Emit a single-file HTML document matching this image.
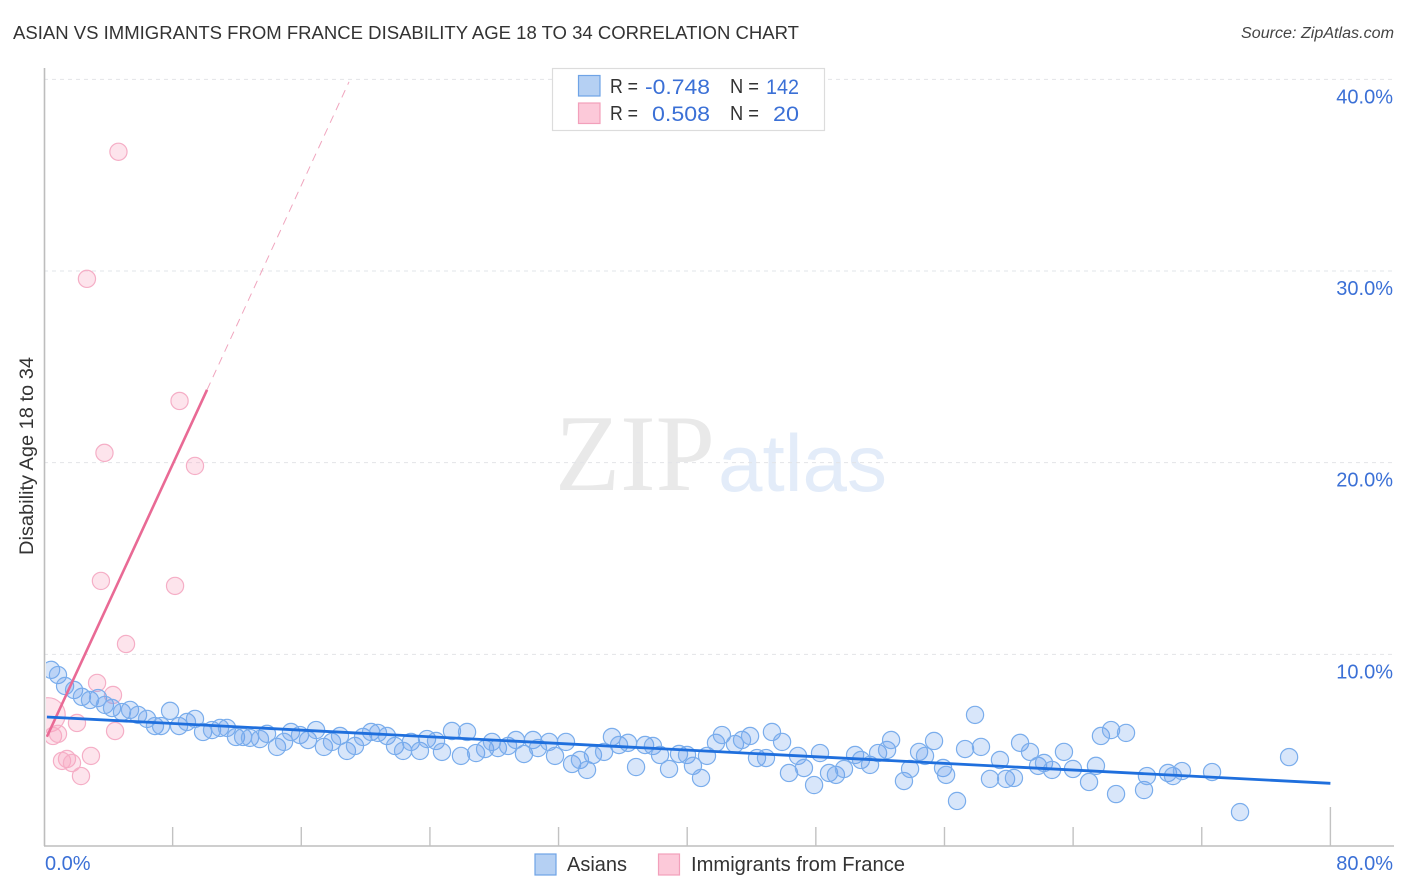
<!DOCTYPE html>
<html lang="en">
<head>
<meta charset="utf-8">
<title>Asian vs Immigrants from France Disability Age 18 to 34 Correlation Chart</title>
<style>
html,body{margin:0;padding:0;background:#fff;width:1406px;height:892px;overflow:hidden}
svg{display:block;font-family:"Liberation Sans",sans-serif}
</style>
</head>
<body>
<svg id="chart" xmlns="http://www.w3.org/2000/svg" width="1406" height="892" viewBox="0 0 1406 892">
  <defs>
    <clipPath id="plot-clip"><rect x="46" y="60" width="1350" height="786"/></clipPath>
  </defs>
  <rect x="0" y="0" width="1406" height="892" fill="#fff"/>
  <text x="13" y="39" font-size="18.5" fill="#333" textLength="786" lengthAdjust="spacingAndGlyphs">ASIAN VS IMMIGRANTS FROM FRANCE DISABILITY AGE 18 TO 34 CORRELATION CHART</text>
  <text x="1241" y="38" font-size="15.5" font-style="italic" fill="#444" textLength="153" lengthAdjust="spacingAndGlyphs">Source: ZipAtlas.com</text>
  <g>
    <text x="555" y="490" font-family="'Liberation Serif',serif" font-size="109" fill="#e9e9e9" textLength="160" lengthAdjust="spacingAndGlyphs">ZIP</text>
    <text x="718" y="491" font-size="81" fill="#e3ecf9" textLength="169" lengthAdjust="spacingAndGlyphs">atlas</text>
  </g>
  <g id="grid"></g>
  <g id="points" clip-path="url(#plot-clip)"></g>
  <g id="trends" clip-path="url(#plot-clip)"></g>
  <g id="axes"></g>
  <text transform="translate(33,555) rotate(-90)" font-size="19" fill="#333" textLength="198" lengthAdjust="spacingAndGlyphs">Disability Age 18 to 34</text>

  <g>
    <rect x="552.5" y="68.5" width="272" height="62" fill="#fff" stroke="#dcdcdc" stroke-width="1.2"/>
    <rect x="578.5" y="75.5" width="21.5" height="20.5" fill="#b5d0f3" stroke="#6fa3e6" stroke-width="1.2"/>
    <rect x="578.5" y="103" width="21.5" height="20.5" fill="#fcc9d9" stroke="#f2a0bb" stroke-width="1.2"/>
    <g font-size="20" fill="#333">
      <text x="610" y="93" textLength="28" lengthAdjust="spacingAndGlyphs">R =</text>
      <text x="730" y="93" textLength="29" lengthAdjust="spacingAndGlyphs">N =</text>
      <text x="610" y="120" textLength="28" lengthAdjust="spacingAndGlyphs">R =</text>
      <text x="730" y="120" textLength="29" lengthAdjust="spacingAndGlyphs">N =</text>
    </g>
    <g font-size="21.5" fill="#3b70d6">
      <text x="645" y="94" textLength="65" lengthAdjust="spacingAndGlyphs">-0.748</text>
      <text x="766" y="94" textLength="33" lengthAdjust="spacingAndGlyphs">142</text>
      <text x="652" y="121" textLength="58" lengthAdjust="spacingAndGlyphs">0.508</text>
      <text x="773" y="121" textLength="26" lengthAdjust="spacingAndGlyphs">20</text>
    </g>
  </g>

  <g>
    <rect x="535" y="854" width="21" height="21" fill="#b5d0f3" stroke="#6fa3e6" stroke-width="1.2"/>
    <text x="567" y="871" font-size="20" fill="#333" textLength="60" lengthAdjust="spacingAndGlyphs">Asians</text>
    <rect x="658.5" y="854" width="21" height="21" fill="#fcc9d9" stroke="#f2a0bb" stroke-width="1.2"/>
    <text x="691" y="871" font-size="20" fill="#333" textLength="214" lengthAdjust="spacingAndGlyphs">Immigrants from France</text>
  </g>
</svg>
<script>
var asianX = [0.44,0.87,1.31,1.87,2.36,2.86,3.36,3.79,4.23,4.85,5.35,5.85,6.41,6.90,7.28,7.84,8.40,8.89,9.39,9.89,
10.45,10.95,11.38,11.94,12.38,12.81,13.43,13.87,14.49,14.93,15.36,15.92,16.42,16.92,17.41,17.91,18.41,18.84,19.34,19.84,
20.34,20.77,21.33,21.83,22.33,22.82,23.38,23.82,24.38,24.75,25.37,25.93,26.31,26.87,27.43,27.86,28.23,28.86,29.35,29.85,
30.41,30.72,31.41,31.78,32.46,32.84,33.33,33.77,34.14,34.83,35.32,35.76,36.32,36.82,37.38,37.87,38.31,38.87,39.49,39.99,
40.36,40.86,41.23,41.79,42.16,42.97,43.41,43.91,44.34,44.90,45.27,45.90,46.33,46.89,47.26,47.89,48.26,48.82,49.25,49.75,
50.44,50.81,51.37,51.87,52.43,52.68,53.48,53.86,54.42,54.79,55.35,55.91,56.10,56.78,57.28,57.90,58.27,58.83,59.45,59.83,
60.32,60.70,61.32,61.82,62.19,62.69,63.43,63.99,64.99,65.42,65.73,66.36,66.67,67.29,68.41,68.59,69.90,70.21,70.77,72.64,
74.38,77.43];
var asianY = [9.19,8.92,8.35,8.14,7.78,7.62,7.72,7.36,7.20,6.99,7.10,6.84,6.63,6.26,6.26,7.05,6.26,6.47,6.63,5.95,
6.05,6.16,6.16,5.69,5.69,5.64,5.58,5.85,5.17,5.43,5.95,5.79,5.53,6.05,5.17,5.43,5.74,4.96,5.22,5.69,
5.95,5.90,5.74,5.22,4.96,5.43,4.96,5.58,5.48,4.91,6.00,4.70,5.95,4.85,5.06,5.43,5.11,5.22,5.53,4.80,
5.53,5.11,5.43,4.70,5.43,4.28,4.49,3.97,4.75,4.91,5.69,5.27,5.38,4.12,5.27,5.22,4.75,4.02,4.80,4.75,
4.18,3.55,4.70,5.38,5.79,5.32,5.53,5.74,4.59,4.59,5.95,5.43,3.81,4.70,4.07,3.18,4.85,3.81,3.71,4.02,
4.75,4.49,4.23,4.85,5.01,5.53,3.39,4.02,4.91,4.70,5.48,4.07,3.71,2.35,5.06,6.84,5.17,3.50,4.49,3.50,
3.55,5.38,4.91,4.18,4.33,3.97,4.91,4.02,3.34,4.18,5.74,6.05,2.71,5.90,2.92,3.65,3.81,3.65,3.91,3.86,
1.77,4.64];
var franceX = [4.63,2.67,8.43,3.76,9.39,3.54,8.15,5.10,3.30,4.29,0.25,2.05,4.42,0.56,0.87,1.43,1.12,1.74,2.92,2.30];
var franceY = [36.22,29.59,23.22,20.51,19.83,13.83,13.57,10.54,8.51,7.88,6.84,6.42,6.00,5.74,5.85,4.54,4.44,4.33,4.70,3.65];
var franceWeight = [1,1,1,1,1,1,1,1,1,1,2,1,1,1,1,1,1,1,1,1];
var asianTrendX = [0.18,80];
var asianTrendY = [6.73,3.27];
var franceTrendX = [0.18,10.14];
var franceTrendY = [5.7,23.8];
var franceTrendExtX = [10.14,18.97];
var franceTrendExtY = [23.8,39.87];
var yTicks = [10,20,30,40];
var yTickLabels = ["10.0%","20.0%","30.0%","40.0%"];
var xTicks = [0,8,16,24,32,40,48,56,64,72,80];
var xEndLabels = ["0.0%","80.0%"];

function xScale(v){return 44 + v*16.08;}
function yScale(v){return 846 - v*19.167;}

var NS = "http://www.w3.org/2000/svg";
function make(tag, parent, attrs){
  var el = document.createElementNS(NS, tag);
  for (var k in attrs){el.setAttribute(k, attrs[k]);}
  parent.appendChild(el);
  return el;
}
var grid = document.getElementById("grid");
var axes = document.getElementById("axes");
var points = document.getElementById("points");
var trends = document.getElementById("trends");

yTicks.forEach(function(t, i){
  var line = make("line", grid, {x1:44, x2:1394, y1:yScale(t), y2:yScale(t), stroke:"#e2e4e8", "stroke-width":1, "stroke-dasharray":"4 4"});
  
  
  var label = make("text", axes, {x:1393, y:yScale(t)+24, "font-size":20, fill:"#3b70d6", "text-anchor":"end"});
  label.textContent = yTickLabels[i];
  
  
});

var axisY = make("line", axes, {x1:44.5, x2:44.5, y1:68, y2:846, stroke:"#bdbdbd", "stroke-width":1.6});


var axisX = make("line", axes, {x1:44, x2:1394, y1:846, y2:846, stroke:"#bdbdbd", "stroke-width":1.6});



xTicks.forEach(function(t, i){
  if (i === 0) return;
  var top = (i === xTicks.length-1) ? 807 : 827;
  var tick = make("line", axes, {x1:xScale(t), x2:xScale(t), y1:top, y2:846, stroke:"#c2c2c2", "stroke-width":1.4});
  
  
});

var xl0 = make("text", axes, {x:45, y:870, "font-size":20, fill:"#3b70d6"});
xl0.textContent = xEndLabels[0];


var xl1 = make("text", axes, {x:1393, y:870, "font-size":20, fill:"#3b70d6", "text-anchor":"end"});
xl1.textContent = xEndLabels[1];



franceX.forEach(function(v, i){
  var c = make("circle", points, {cx:xScale(v), cy:yScale(franceY[i]), r:8.6*franceWeight[i], fill:"rgba(250,165,192,0.3)", stroke:"#f5aec6", "stroke-width":1.2});
  
  
});
asianX.forEach(function(v, i){
  var c = make("circle", points, {cx:xScale(v), cy:yScale(asianY[i]), r:8.6, fill:"rgba(105,160,235,0.26)", stroke:"#7aadec", "stroke-width":1.2});
  
  
});

var fExt = make("line", trends, {x1:xScale(franceTrendExtX[0]), y1:yScale(franceTrendExtY[0]), x2:xScale(franceTrendExtX[1]), y2:yScale(franceTrendExtY[1]), stroke:"#f0a5be", "stroke-width":1, "stroke-dasharray":"8 6"});


var fLine = make("line", trends, {x1:xScale(franceTrendX[0]), y1:yScale(franceTrendY[0]), x2:xScale(franceTrendX[1]), y2:yScale(franceTrendY[1]), stroke:"#e96a95", "stroke-width":2.6});


var aLine = make("line", trends, {x1:xScale(asianTrendX[0]), y1:yScale(asianTrendY[0]), x2:xScale(asianTrendX[1]), y2:yScale(asianTrendY[1]), stroke:"#1f6fdd", "stroke-width":2.8});


</script>
</body>
</html>
